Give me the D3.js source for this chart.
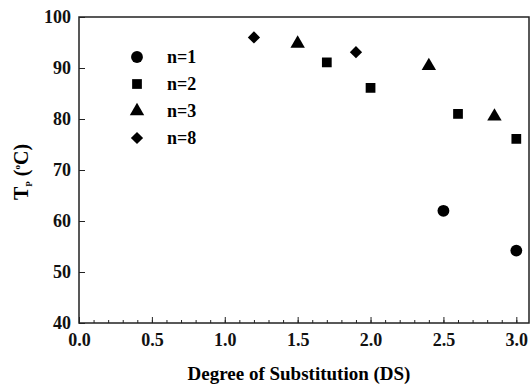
<!DOCTYPE html>
<html lang="en">
<head>
<meta charset="UTF-8">
<script src="https://cdnjs.cloudflare.com/ajax/libs/d3/7.8.5/d3.min.js"></script>
<style>
  body { margin: 0; background: #fff; }
  svg text { font-family: 'Liberation Serif', 'Times New Roman', serif; font-weight: bold; }
</style>
</head>
<body>
<svg width="530" height="386"></svg>
<script>
// data
const series = ['n=1', 'n=2', 'n=3', 'n=8']
const dsN1 = [2.5, 3.0]
const tpN1 = [62.0, 54.2]
const dsN2 = [1.7, 2.0, 2.6, 3.0]
const tpN2 = [91.1, 86.1, 81.0, 76.1]
const dsN3 = [1.5, 2.4, 2.85]
const tpN3 = [94.8, 90.4, 80.5]
const dsN8 = [1.2, 1.9]
const tpN8 = [96.0, 93.1]
const xTicks = [0, 0.5, 1.0, 1.5, 2.0, 2.5, 3.0]
const yTicks = [40, 50, 60, 70, 80, 90, 100]

const groups = [
  {name: series[0], sym: d3.symbolCircle, size: 110, rot: 0, xs: dsN1, ys: tpN1},
  {name: series[1], sym: d3.symbolSquare, size: 95, rot: 0, xs: dsN2, ys: tpN2},
  {name: series[2], sym: d3.symbolTriangle, size: 90, rot: 0, xs: dsN3, ys: tpN3},
  {name: series[3], sym: d3.symbolSquare, size: 75, rot: 45, xs: dsN8, ys: tpN8}
]

const margin = {top: 17, right: 1, bot: 63, left: 79}
const w = 530 - margin.left - margin.right
const h = 386 - margin.top - margin.bot

const x = d3.scaleLinear().domain([0, 3.087]).range([0, w])
const y = d3.scaleLinear().domain([40, 100]).range([h, 0])

const svg = d3.select('svg')
const g = svg.append('g').attr('transform', 'translate(' + margin.left + ',' + margin.top + ')')

// frame
g.append('rect')
  .attr('width', w).attr('height', h)
  .attr('fill', 'none').attr('stroke', '#222').attr('stroke-width', 1.5)

const styleAxis = a => {
  a.select('.domain').remove()
  a.attr('font-family', null).attr('font-size', null)
  a.selectAll('line').attr('stroke', '#222')
  a.selectAll('text')
    .style('font-family', "'Liberation Serif', serif")
    .style('font-weight', 'bold')
    .style('font-size', '18px')
    .attr('fill', '#111')
}

// minor x ticks
g.append('g')
  .attr('transform', 'translate(0,' + h + ')')
  .call(d3.axisBottom(x).tickValues(d3.range(1, 31).map(i => i / 10)).tickSize(-3).tickFormat(''))
  .call(styleAxis)

// x axis
g.append('g')
  .attr('transform', 'translate(0,' + h + ')')
  .call(d3.axisBottom(x).tickValues(xTicks).tickSize(-6).tickPadding(10).tickFormat(d3.format('.1f')))
  .call(styleAxis)

// y axis
g.append('g')
  .call(d3.axisLeft(y).tickValues(yTicks).tickSize(-6).tickPadding(8))
  .call(styleAxis)

// points
groups.forEach(s => {
  g.selectAll(null)
    .data(s.xs.map((v, i) => [v, s.ys[i]]))
    .enter()
    .append('path')
    .attr('d', d3.symbol().type(s.sym).size(s.size))
    .attr('transform', d => 'translate(' + x(d[0]) + ',' + y(d[1]) + ') rotate(' + s.rot + ')')
    .attr('fill', '#000')
})

// legend
const leg = svg.append('g').attr('transform', 'translate(137,57)')
groups.forEach((s, i) => {
  leg.append('path')
    .attr('d', d3.symbol().type(s.sym).size(s.size))
    .attr('transform', 'translate(0,' + (i * 27) + ') rotate(' + s.rot + ')')
    .attr('fill', '#000')
  leg.append('text')
    .attr('x', 30).attr('y', i * 27 + 6)
    .attr('font-size', 18)
    .text(s.name)
})

// axis labels
svg.append('text')
  .attr('x', margin.left + w / 2 - 5).attr('y', 380)
  .attr('text-anchor', 'middle')
  .attr('font-size', 19)
  .text('Degree of Substitution (DS)')

const yl = svg.append('text')
  .attr('transform', 'translate(28,172) rotate(-90)')
  .attr('text-anchor', 'middle')
  .attr('font-size', 20)
yl.append('tspan').text('T')
yl.append('tspan').attr('font-size', 9).attr('dy', 4).text('P')
yl.append('tspan').attr('dy', -4).text(' (')
yl.append('tspan').attr('font-size', 9).attr('dy', -8).text('o')
yl.append('tspan').attr('dy', 8).text('C)')
</script>
</body>
</html>
